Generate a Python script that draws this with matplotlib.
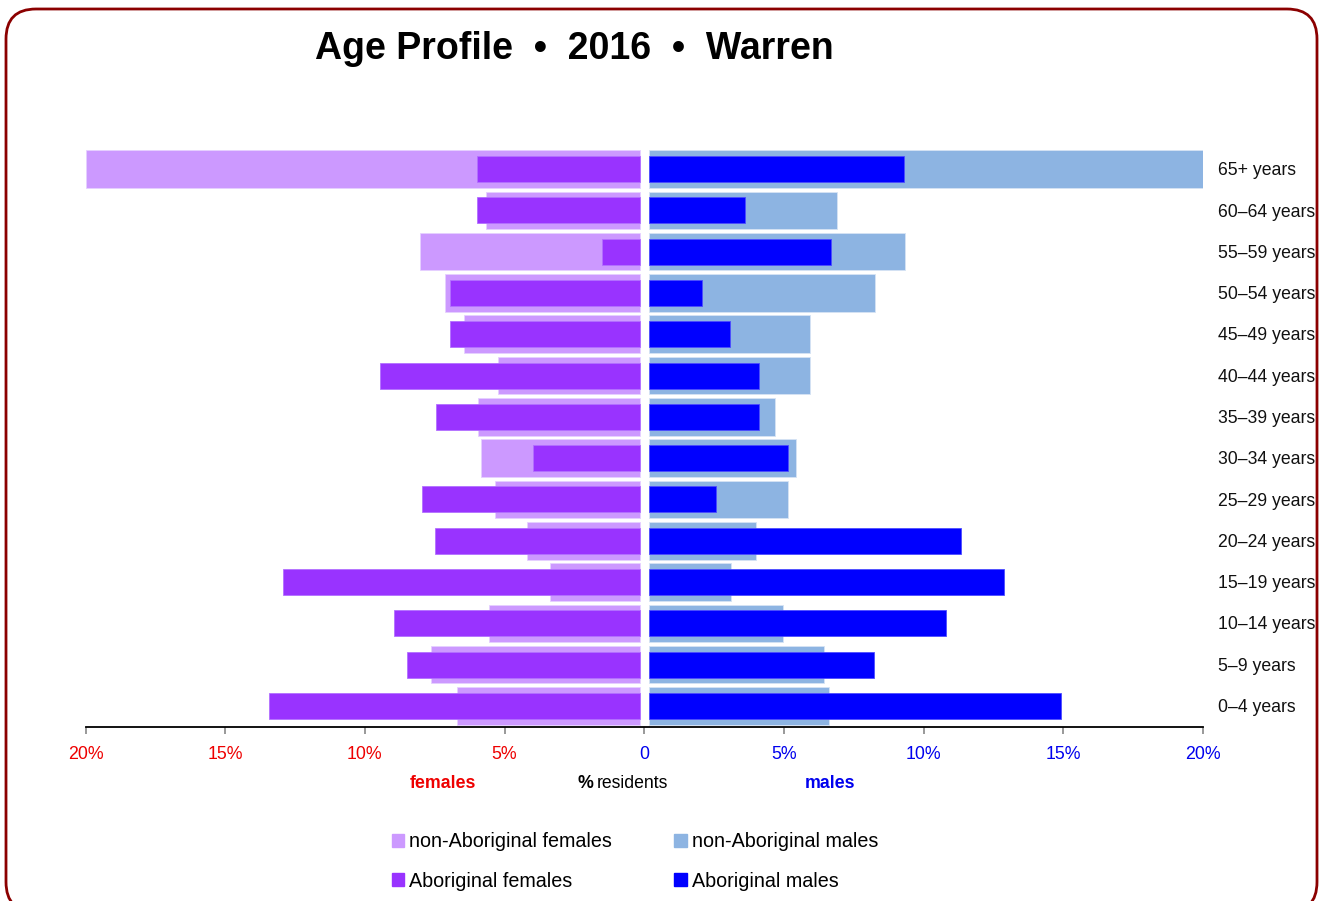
import matplotlib
matplotlib.use("Agg")
import matplotlib.pyplot as plt
from matplotlib.patches import FancyBboxPatch, Patch
import numpy as np

W, H = 1324, 901
# no narrow face here, so the regular one is set a bit smaller
plt.rcParams['font.family'] = ['Liberation Sans Narrow', 'Liberation Sans', 'DejaVu Sans']

# age groups, bottom to top
ages = ['0–4 years', '5–9 years', '10–14 years', '15–19 years', '20–24 years',
        '25–29 years', '30–34 years', '35–39 years', '40–44 years', '45–49 years',
        '50–54 years', '55–59 years', '60–64 years', '65+ years']

# % residents, same order as ages
fem_non = [6.72, 7.62, 5.54, 3.37, 4.18, 5.34, 5.84, 5.94, 5.25, 6.44, 7.12, 8.01, 5.65, 20.0]
fem_abo = [13.43, 8.48, 8.96, 12.92, 7.48, 7.95, 4.00, 7.47, 9.45, 6.97, 6.97, 1.50, 5.97, 5.97]
male_non = [6.62, 6.43, 4.97, 3.10, 3.99, 5.15, 5.44, 4.67, 5.94, 5.94, 8.27, 9.35, 6.91, 20.0]
male_abo = [14.93, 8.23, 10.81, 12.86, 11.32, 2.57, 5.15, 4.11, 4.11, 3.07, 2.05, 6.69, 3.61, 9.28]

ticks = [-20, -15, -10, -5, 0, 5, 10, 15, 20]
tick_labels = ['20%', '15%', '10%', '5%', '0', '5%', '10%', '15%', '20%']

C_FNON = '#cc99ff'
C_FABO = '#9933ff'
C_MNON = '#8db4e2'
C_MABO = '#0000ff'
RED = '#ee0000'
BLUE = '#0000ee'

gap = 0.16  # white strip between the two halves


def fx(x):
    return x / W


def fy(y):
    return 1 - y / H


fig = plt.figure(figsize=(W / 100, H / 100), dpi=100)
ax = fig.add_axes([fx(85.5), fy(727), (1203 - 85.5) / W, (727 - 148) / H])

y = np.arange(len(ages))
fn = np.array(fem_non)
fa = np.array(fem_abo)
mn = np.array(male_non)
ma = np.array(male_abo)

ax.barh(y, -(fn - gap), left=-gap, height=0.91, color=C_FNON, edgecolor='#e6d0ff', lw=0.6)
ax.barh(y, mn - gap, left=gap, height=0.91, color=C_MNON, edgecolor='#d6e3f4', lw=0.6)
ax.barh(y, -(fa - gap), left=-gap, height=0.63, color=C_FABO, edgecolor='#b370ff', lw=0.6)
ax.barh(y, ma - gap, left=gap, height=0.63, color=C_MABO, edgecolor='#4d4dff', lw=0.6)

ax.set_xlim(-20, 20)
ax.set_ylim(-0.51, len(ages) - 0.49)

for s in ['top', 'left', 'right']:
    ax.spines[s].set_visible(False)
ax.spines['bottom'].set_linewidth(1.3)
ax.set_yticks([])
ax.set_xticks(ticks)
ax.set_xticklabels(tick_labels, fontsize=12.8)
ax.tick_params(axis='x', length=5, color='#888888', width=1.2, pad=9)
for t, lab in zip(ticks, ax.get_xticklabels()):
    lab.set_color(RED if t < 0 else BLUE)

# age labels on the right
for yi, lab in zip(y, ages):
    ax.text(1.0134, yi - 0.04, lab, transform=ax.get_yaxis_transform(),
            ha='left', va='center', fontsize=12.7, color='#111111')

# title
fig.text(fx(574), fy(49), 'Age Profile  •  2016  •  Warren', ha='center', va='center',
         fontsize=27, fontweight='bold')

# axis captions
fig.text(fx(443), fy(784), 'females', ha='center', va='center', fontsize=12.8,
         fontweight='bold', color=RED)
fig.text(fx(593), fy(784), '%', ha='right', va='center', fontsize=12.8, fontweight='bold')
fig.text(fx(597), fy(784), 'residents', ha='left', va='center', fontsize=12.7)
fig.text(fx(830), fy(784), 'males', ha='center', va='center', fontsize=12.8,
         fontweight='bold', color=BLUE)

# legend
handles = [Patch(color=C_FNON, label='non-Aboriginal females'),
           Patch(color=C_FABO, label='Aboriginal females'),
           Patch(color=C_MNON, label='non-Aboriginal males'),
           Patch(color=C_MABO, label='Aboriginal males')]
fig.legend(handles=handles, ncol=2, loc='upper left', bbox_to_anchor=(fx(391.5), fy(832)),
           frameon=False, fontsize=14.2, handlelength=0.63, handleheight=0.63,
           handletextpad=0.27, columnspacing=3.15, labelspacing=1.05,
           borderpad=0, borderaxespad=0)

# rounded frame
frame = FancyBboxPatch((fx(6), fy(912)), (1317 - 6) / W, (912 - 9) / H,
                       boxstyle=f"round,pad=0,rounding_size={30 / W}",
                       mutation_aspect=W / H, transform=fig.transFigure,
                       fill=False, ec='#8b0000', lw=2)
fig.add_artist(frame)

fig.savefig('out.png', dpi=100)
